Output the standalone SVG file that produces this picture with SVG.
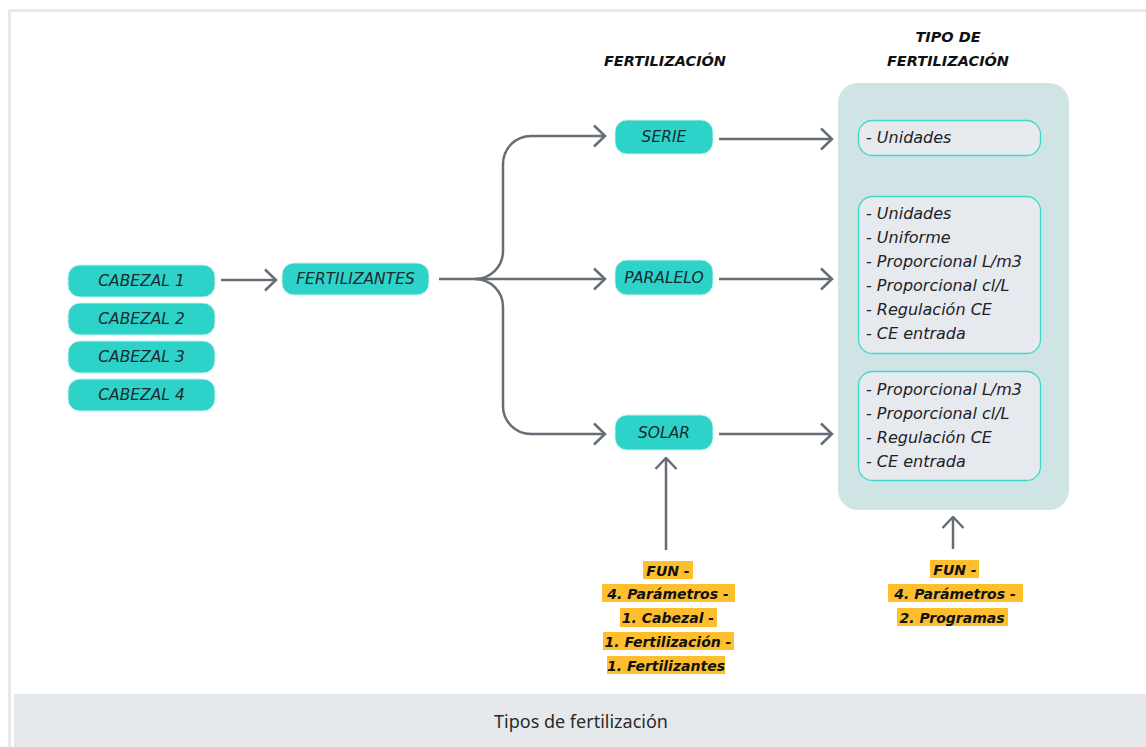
<svg xmlns="http://www.w3.org/2000/svg" width="1146" height="747" viewBox="0 0 1146 747">
<defs>
<style>
.pill{fill:#2dd3c9;stroke:#c8f1ed;stroke-width:1}
.pt{font-family:"DejaVu Sans",sans-serif;font-style:italic;font-size:15.5px;fill:#1c2a2d;text-anchor:middle;dominant-baseline:central}
.conn{fill:none;stroke:#666d77;stroke-width:2.5}
.ib{fill:#e6e9ee;stroke:#3fd7cd;stroke-width:1.3}
.it{font-family:"DejaVu Sans",sans-serif;font-style:italic;font-size:16px;fill:#1c2226;dominant-baseline:central}
.hd{font-family:"DejaVu Sans",sans-serif;font-style:italic;font-weight:bold;font-size:14.5px;fill:#111;text-anchor:middle;dominant-baseline:central}
.hl{fill:#fdbf2e}
.ft{font-family:"DejaVu Sans",sans-serif;font-style:italic;font-weight:bold;font-size:14px;fill:#111;text-anchor:middle;dominant-baseline:central}
</style>
<marker id="ah" markerUnits="userSpaceOnUse" viewBox="0 0 14 24" refX="12.5" refY="12" markerWidth="14" markerHeight="24" orient="auto">
<path d="M1.5,1.5 L12.5,12 L1.5,22.5" fill="none" stroke="#666d77" stroke-width="2.5"/>
</marker>
</defs>
<rect x="0" y="0" width="1146" height="747" fill="#ffffff"/>
<path d="M9.5,747 L9.5,10.5 L1146,10.5" fill="none" stroke="#e7eaed" stroke-width="3"/>
<g id="caption">
<rect x="14" y="694" width="1132" height="53" fill="#e6e9ec"/>
<text x="581" y="721" font-family="'Noto Sans',sans-serif" font-size="18" fill="#2a2a2a" text-anchor="middle" dominant-baseline="central">Tipos de fertilización</text>
</g>
<g id="headers">
<text class="hd" x="665" y="61">FERTILIZACIÓN</text>
<text class="hd" x="948" y="37">TIPO DE</text>
<text class="hd" x="948" y="61">FERTILIZACIÓN</text>
</g>
<g id="panel">
<rect x="838" y="83" width="231" height="427" rx="20" fill="#d0e3e5"/>
</g>
<g id="connectors">
<line class="conn" x1="221" y1="280" x2="276" y2="280" marker-end="url(#ah)"/>
<line class="conn" x1="439" y1="279" x2="605" y2="279" marker-end="url(#ah)"/>
<path class="conn" d="M475,279 A28,28 0 0 0 503,251 L503,164 A28,28 0 0 1 531,136 L605,136" marker-end="url(#ah)"/>
<path class="conn" d="M475,279 A28,28 0 0 1 503,307 L503,406 A28,28 0 0 0 531,434 L605,434" marker-end="url(#ah)"/>
<line class="conn" x1="719" y1="139" x2="832" y2="139" marker-end="url(#ah)"/>
<line class="conn" x1="719" y1="279" x2="832" y2="279" marker-end="url(#ah)"/>
<line class="conn" x1="719" y1="434" x2="832" y2="434" marker-end="url(#ah)"/>
<line class="conn" x1="666" y1="550" x2="666" y2="458" marker-end="url(#ah)"/>
<line class="conn" x1="953" y1="549" x2="953" y2="517" marker-end="url(#ah)"/>
</g>
<g id="cabezal1"><rect class="pill" x="68" y="265" width="147" height="32" rx="12"/><text class="pt" x="141.5" y="281">CABEZAL 1</text></g>
<g id="cabezal2"><rect class="pill" x="68" y="303" width="147" height="32" rx="12"/><text class="pt" x="141.5" y="319">CABEZAL 2</text></g>
<g id="cabezal3"><rect class="pill" x="68" y="341" width="147" height="32" rx="12"/><text class="pt" x="141.5" y="357">CABEZAL 3</text></g>
<g id="cabezal4"><rect class="pill" x="68" y="379" width="147" height="32" rx="12"/><text class="pt" x="141.5" y="395">CABEZAL 4</text></g>
<g id="fertilizantes"><rect class="pill" x="282" y="263" width="147" height="32" rx="12"/><text class="pt" x="355.5" y="279">FERTILIZANTES</text></g>
<g id="serie"><rect class="pill" x="615" y="120" width="98" height="34" rx="12"/><text class="pt" x="664" y="137">SERIE</text></g>
<g id="paralelo"><rect class="pill" x="615" y="260" width="98" height="35" rx="12"/><text class="pt" x="664" y="277.5">PARALELO</text></g>
<g id="solar"><rect class="pill" x="615" y="415" width="98" height="35" rx="12"/><text class="pt" x="664" y="432.5">SOLAR</text></g>
<g id="tipo-serie"><rect class="ib" x="858.5" y="120.5" width="182" height="35" rx="14"/><text class="it" x="866" y="137">- Unidades</text></g>
<g id="tipo-paralelo"><rect class="ib" x="858.5" y="196.5" width="182" height="157" rx="14"/>
<text class="it" x="866" y="213">- Unidades</text>
<text class="it" x="866" y="237">- Uniforme</text>
<text class="it" x="866" y="261">- Proporcional L/m3</text>
<text class="it" x="866" y="285">- Proporcional cl/L</text>
<text class="it" x="866" y="309">- Regulación CE</text>
<text class="it" x="866" y="333">- CE entrada</text>
</g>
<g id="tipo-solar"><rect class="ib" x="858.5" y="371.5" width="182" height="109" rx="14"/>
<text class="it" x="866" y="389">- Proporcional L/m3</text>
<text class="it" x="866" y="413">- Proporcional cl/L</text>
<text class="it" x="866" y="437">- Regulación CE</text>
<text class="it" x="866" y="461">- CE entrada</text>
</g>
<g id="fun-cabezal">
<rect class="hl" x="643" y="561" width="50" height="18"/>
<rect class="hl" x="602" y="584" width="133" height="18"/>
<rect class="hl" x="620" y="608" width="97" height="19"/>
<rect class="hl" x="603" y="632" width="131" height="18"/>
<rect class="hl" x="607" y="656" width="118" height="18"/>
<text class="ft" x="668" y="570.5">FUN -</text>
<text class="ft" x="668" y="594">4. Parámetros -</text>
<text class="ft" x="668" y="618">1. Cabezal -</text>
<text class="ft" x="668" y="642">1. Fertilización -</text>
<text class="ft" x="666" y="666">1. Fertilizantes</text>
</g>
<g id="fun-programas">
<rect class="hl" x="930" y="560" width="49" height="18"/>
<rect class="hl" x="888" y="584" width="135" height="18"/>
<rect class="hl" x="897" y="608" width="111" height="18"/>
<text class="ft" x="955" y="570">FUN -</text>
<text class="ft" x="955" y="594">4. Parámetros -</text>
<text class="ft" x="952" y="618">2. Programas</text>
</g>
</svg>
